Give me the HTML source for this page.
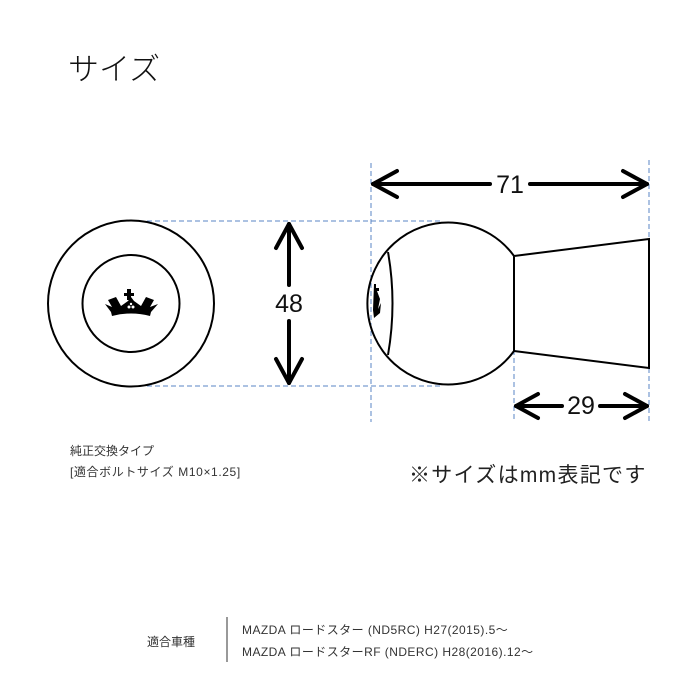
<!DOCTYPE html>
<html><head><meta charset="utf-8"><style>
html,body{margin:0;padding:0;background:#fff;width:700px;height:700px;overflow:hidden}
svg{display:block}
text{font-family:"Liberation Sans","Noto Sans CJK JP",sans-serif}
</style></head><body>
<svg width="700" height="700" viewBox="0 0 700 700" xmlns="http://www.w3.org/2000/svg">
<text x="68" y="80" font-size="31" fill="#111" style="font-family:'Noto Sans CJK JP',sans-serif;font-weight:300">サイズ</text>

<!-- dashed guides -->
<g stroke="#5a86c4" stroke-width="1" stroke-dasharray="5,3" fill="none">
<line x1="131" y1="221" x2="440" y2="221"/>
<line x1="131" y1="386" x2="440" y2="386"/>
<line x1="371" y1="163" x2="371" y2="422"/>
<line x1="649" y1="160" x2="649" y2="422"/>
<line x1="514" y1="350" x2="514" y2="422"/>
</g>

<!-- left view -->
<circle cx="131" cy="303.5" r="83" fill="none" stroke="#000" stroke-width="2"/>
<circle cx="131" cy="303.5" r="48.5" fill="none" stroke="#000" stroke-width="2"/>
<path d="M127 289h4v4h3v3h-3v4h-4v-4h-3v-3h3z" fill="#000"/>
<path d="M105 304 L112 307 L108 300 L116 297 L121 306 L128 301 L131 297 L134 301 L141 306 L146 297 L154 300 L150 307 L158 304 L151 312 L150 316 Q131 311 112 316 L111 312 Z" fill="#000"/>
<circle cx="129" cy="307" r="1.5" fill="#fff"/><circle cx="133" cy="307" r="1.5" fill="#fff"/><circle cx="131" cy="304" r="1.2" fill="#fff"/>

<!-- side view -->
<path d="M514 256 A81 81 0 1 0 514 351" fill="none" stroke="#000" stroke-width="2"/>
<path d="M388 252 Q397 303 388 355" fill="none" stroke="#000" stroke-width="2"/>
<path d="M514 256 L649 239 L649 368 L514 351 Z" fill="none" stroke="#000" stroke-width="2"/>
<path d="M374 284 l2 0 l0 4 l3 0 l0 3 l-2 0 l3 8 l-2 10 l3 -6 l-1 10 l-6 5 l-1 -8 z" fill="#000"/>

<!-- arrows -->
<g stroke="#000" stroke-width="4" fill="none" stroke-linecap="round" stroke-linejoin="round">
<line x1="373" y1="184" x2="490" y2="184"/><line x1="530" y1="184" x2="647" y2="184"/>
<polyline points="397,171 373,184 397,197"/><polyline points="623,171 647,184 623,197"/>
<line x1="289" y1="224" x2="289" y2="285"/><line x1="289" y1="321" x2="289" y2="383"/>
<polyline points="276,248 289,224 302,248"/><polyline points="276,359 289,383 302,359"/>
<line x1="516" y1="406" x2="562" y2="406"/><line x1="600" y1="406" x2="647" y2="406"/>
<polyline points="538,394 516,406 538,418"/><polyline points="625,394 647,406 625,418"/>
</g>
<text x="510" y="193" font-size="25" text-anchor="middle" fill="#111">71</text>
<text x="289" y="312" font-size="25" text-anchor="middle" fill="#111">48</text>
<text x="581" y="414" font-size="25" text-anchor="middle" fill="#111">29</text>

<text x="70" y="455" font-size="12" fill="#333">純正交換タイプ</text>
<text x="70" y="476" font-size="12" fill="#333" letter-spacing="0.6">[適合ボルトサイズ M10×1.25]</text>
<text x="409" y="482" font-size="21" fill="#222" letter-spacing="1.3">※サイズはmm表記です</text>

<text x="147" y="646" font-size="12" fill="#333">適合車種</text>
<line x1="227" y1="617" x2="227" y2="662" stroke="#333" stroke-width="1"/>
<text x="242" y="634" font-size="12" fill="#333" letter-spacing="0.45">MAZDA ロードスター (ND5RC) H27(2015).5～</text>
<text x="242" y="656" font-size="12" fill="#333" letter-spacing="0.45">MAZDA ロードスターRF (NDERC) H28(2016).12～</text>
</svg>
</body></html>
